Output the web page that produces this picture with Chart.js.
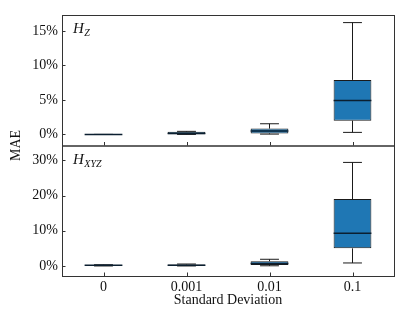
<!DOCTYPE html>
<html>
<head>
<meta charset="utf-8">
<script src="https://cdn.jsdelivr.net/npm/chart.js@4"></script>
<style>
  html, body { margin: 0; padding: 0; background: #fff; }
  #wrap { position: relative; width: 415px; height: 311px; }
</style>
</head>
<body>
<div id="wrap"><canvas id="chart" width="415" height="311"></canvas></div>
<script>
// categories (standard deviation of noise)
const categories = ['0', '0.001', '0.01', '0.1'];

// H_Z panel, MAE in %
const hzMin = [0, 0, 0.05, 0.3];
const hzQ1 = [0, 0.03, 0.15, 2.0];
const hzMed = [0, 0.15, 0.5, 4.9];
const hzQ3 = [0, 0.38, 0.85, 7.9];
const hzMax = [0, 0.45, 1.55, 16.2];

// H_XYZ panel, MAE in %
const hxMin = [0, 0, 0.05, 0.85];
const hxQ1 = [0.1, 0.05, 0.3, 5.0];
const hxMed = [0.2, 0.2, 0.7, 9.3];
const hxQ3 = [0.3, 0.45, 1.35, 19.0];
const hxMax = [0.35, 0.55, 1.9, 29.4];

// tick labels
const hzTicks = [0, 5, 10, 15];
const hxTicks = [0, 10, 20, 30];

const FONT = "'Liberation Serif', 'DejaVu Serif', serif";
const INK = '#1a1a1a';

const panels = [
  { axis: 'yTop', min: hzMin, q1: hzQ1, med: hzMed, q3: hzQ3, max: hzMax, name: 'H', sub: 'Z' },
  { axis: 'yBot', min: hxMin, q1: hxQ1, med: hxMed, q3: hxQ3, max: hxMax, name: 'H', sub: 'XYZ' }
];

function boxData(q1, q3) {
  return q1.map((v, i) => [v, q3[i]]);
}

// whiskers, caps, medians, frame and inward ticks
const boxPlugin = {
  id: 'boxPlugin',
  afterDatasetsDraw(chart) {
    const ctx = chart.ctx;
    const x = chart.scales.x;
    panels.forEach((p, di) => {
      const y = chart.scales[p.axis];
      const meta = chart.getDatasetMeta(di);
      meta.data.forEach((bar, i) => {
        const cx = x.getPixelForValue(i);
        const half = bar.width / 2;
        const capHalf = half / 2;
        ctx.save();
        ctx.strokeStyle = INK;
        ctx.lineWidth = 1;
        ctx.beginPath();
        ctx.moveTo(cx, y.getPixelForValue(p.q3[i]));
        ctx.lineTo(cx, y.getPixelForValue(p.max[i]));
        ctx.moveTo(cx, y.getPixelForValue(p.q1[i]));
        ctx.lineTo(cx, y.getPixelForValue(p.min[i]));
        ctx.moveTo(cx - capHalf, y.getPixelForValue(p.max[i]));
        ctx.lineTo(cx + capHalf, y.getPixelForValue(p.max[i]));
        ctx.moveTo(cx - capHalf, y.getPixelForValue(p.min[i]));
        ctx.lineTo(cx + capHalf, y.getPixelForValue(p.min[i]));
        ctx.stroke();
        ctx.lineWidth = 1.5;
        ctx.strokeStyle = '#0b1f30';
        ctx.beginPath();
        ctx.moveTo(cx - half, y.getPixelForValue(p.med[i]));
        ctx.lineTo(cx + half, y.getPixelForValue(p.med[i]));
        ctx.stroke();
        ctx.restore();
      });
    });
  },
  afterDraw(chart) {
    const ctx = chart.ctx;
    const x = chart.scales.x;
    ctx.save();
    ctx.strokeStyle = '#333';
    ctx.lineWidth = 1;
    panels.forEach((p) => {
      const y = chart.scales[p.axis];
      ctx.strokeRect(y.right + 0.5, y.top + 0.5, chartRight(chart) - y.right, y.bottom - y.top);
      // inward ticks
      ctx.beginPath();
      y.ticks.forEach((t) => {
        const py = Math.round(y.getPixelForValue(t.value)) + 0.5;
        ctx.moveTo(y.right, py);
        ctx.lineTo(y.right + 3.5, py);
      });
      categories.forEach((c, i) => {
        const px = Math.round(x.getPixelForValue(i)) + 0.5;
        ctx.moveTo(px, y.bottom);
        ctx.lineTo(px, y.bottom - 3.5);
      });
      ctx.stroke();
      // panel label
      ctx.fillStyle = '#111';
      ctx.textBaseline = 'alphabetic';
      ctx.textAlign = 'left';
      ctx.font = 'italic 15px ' + FONT;
      const lx = y.right + 11;
      const ly = y.top + 18;
      ctx.fillText(p.name, lx, ly);
      const w = ctx.measureText(p.name).width;
      ctx.font = 'italic 10px ' + FONT;
      ctx.fillText(p.sub, lx + w + 0.5, ly + 3);
    });
    // y axis title
    const yt = chart.scales.yTop;
    ctx.translate(16, yt.bottom);
    ctx.rotate(-Math.PI / 2);
    ctx.fillStyle = '#111';
    ctx.font = '14px ' + FONT;
    ctx.textAlign = 'center';
    ctx.textBaseline = 'middle';
    ctx.fillText('MAE', 0, 0);
    ctx.restore();
  }
};

function chartRight(chart) {
  return chart.chartArea.right;
}

const ctx = document.getElementById('chart').getContext('2d');
window.maeChart = new Chart(ctx, {
  type: 'bar',
  data: {
    labels: categories,
    datasets: panels.map((p) => ({
      label: p.name + p.sub,
      data: boxData(p.q1, p.q3),
      yAxisID: p.axis,
      backgroundColor: '#1f77b4',
      borderColor: INK,
      borderWidth: 1,
      borderSkipped: false,
      grouped: false,
      barPercentage: 0.455,
      categoryPercentage: 1
    }))
  },
  options: {
    responsive: false,
    animation: false,
    layout: { padding: { top: 15, right: 21, left: 0, bottom: 0 } },
    plugins: { legend: { display: false }, tooltip: { enabled: false } },
    scales: {
      x: {
        type: 'category',
        offset: true,
        grid: { display: false, drawTicks: false },
        border: { display: false },
        ticks: { color: '#111', font: { family: FONT, size: 14 }, padding: 3, maxRotation: 0 },
        title: { display: true, text: 'Standard Deviation', color: '#111', font: { family: FONT, size: 14 }, padding: { top: 0, bottom: 2 } },
        afterFit(scale) { scale.height = 35; }
      },
      yBot: {
        type: 'linear',
        position: 'left',
        stack: 'panels',
        stackWeight: 1,
        min: -2.85,
        max: 34.2,
        afterBuildTicks(scale) { scale.ticks = hxTicks.map((v) => ({ value: v })); },
        grid: { display: false, drawTicks: false },
        border: { display: false },
        ticks: { color: '#111', font: { family: FONT, size: 14 }, padding: 4, callback: (v) => v + '%' },
        afterFit(scale) { scale.width = 62; }
      },
      yTop: {
        type: 'linear',
        position: 'left',
        stack: 'panels',
        stackWeight: 1,
        min: -1.6,
        max: 17.3,
        afterBuildTicks(scale) { scale.ticks = hzTicks.map((v) => ({ value: v })); },
        grid: { display: false, drawTicks: false },
        border: { display: false },
        ticks: { color: '#111', font: { family: FONT, size: 14 }, padding: 4, callback: (v) => v + '%' },
        afterFit(scale) { scale.width = 62; }
      }
    }
  },
  plugins: [boxPlugin]
});
</script>
</body>
</html>
